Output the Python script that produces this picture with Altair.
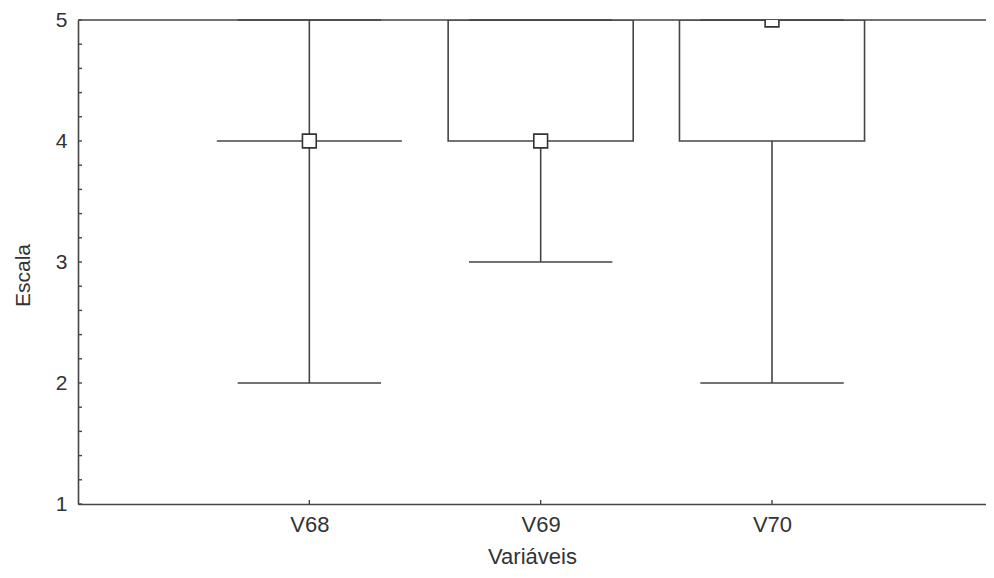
import altair as alt
import pandas as pd

categories = ["V68", "V69", "V70"]
positions = [1, 2, 3]
q1 = [4, 4, 4]
q3 = [4, 5, 5]
median = [4, 4, 5]
low = [2, 3, 2]
high = [5, 5, 5]
y_tick_values = [1.0, 1.2, 1.4, 1.6, 1.8, 2.0, 2.2, 2.4, 2.6, 2.8, 3.0, 3.2, 3.4,
                 3.6, 3.8, 4.0, 4.2, 4.4, 4.6, 4.8, 5.0]

W, H = 908, 484
LINE = "#454545"
TEXT = "#333333"
FONT = "Liberation Sans"

df = pd.DataFrame({"cat": categories, "pos": positions, "q1": q1, "q3": q3,
                   "median": median, "low": low, "high": high})
ticks_df = pd.DataFrame({"v": y_tick_values})

label_expr = "[" + ",".join("'%s'" % c for c in categories) + "][datum.value - 1]"

xscale = alt.Scale(domain=[0, 3.925], nice=False, zero=False)
yscale = alt.Scale(domain=[1, 5], nice=False, zero=False)

base = alt.Chart(df)

box = base.transform_calculate(
    xl="datum.pos - 0.4", xr="datum.pos + 0.4"
).mark_rect(fill="white", stroke=LINE, strokeWidth=1.6, clip=True).encode(
    x=alt.X("xl:Q", scale=xscale,
            axis=alt.Axis(values=positions, labelExpr=label_expr, title="Variáveis",
                          grid=False, ticks=False, labelPadding=10, titlePadding=11,
                          labelFontSize=22, titleFontSize=22,
                          domainColor=LINE, domainWidth=1.6)),
    x2="xr:Q",
    y=alt.Y("q1:Q", scale=yscale,
            axis=alt.Axis(values=[1, 2, 3, 4, 5], format="d", title="Escala", grid=False,
                          ticks=False, labelPadding=11, titlePadding=22, titleY=255,
                          labelFontSize=21, titleFontSize=21,
                          domainColor=LINE, domainWidth=1.6)),
    y2="q3:Q",
)

whisk_lo = base.mark_rule(color=LINE, strokeWidth=1.6).encode(
    x=alt.X("pos:Q", scale=xscale), y="low:Q", y2="q1:Q")
whisk_hi = base.mark_rule(color=LINE, strokeWidth=1.6).encode(
    x=alt.X("pos:Q", scale=xscale), y="q3:Q", y2="high:Q")

cap_lo = base.transform_calculate(
    xl="datum.pos - 0.31", xr="datum.pos + 0.31"
).mark_rule(color=LINE, strokeWidth=1.6).encode(
    x=alt.X("xl:Q", scale=xscale), x2="xr:Q", y="low:Q")
cap_hi = base.transform_calculate(
    xl="datum.pos - 0.31", xr="datum.pos + 0.31"
).mark_rule(color=LINE, strokeWidth=1.6).encode(
    x=alt.X("xl:Q", scale=xscale), x2="xr:Q", y="high:Q")

marker = base.mark_point(shape="square", size=190, filled=False, fill="white",
                         fillOpacity=1, stroke="#333333", strokeWidth=1.6, opacity=1,
                         clip=True).encode(
    x=alt.X("pos:Q", scale=xscale), y="median:Q")

top_line = alt.Chart(pd.DataFrame({"v": [5]})).mark_rule(color=LINE, strokeWidth=1.6).encode(
    y=alt.Y("v:Q", scale=yscale), x=alt.value(0), x2=alt.value(W))

yticks = alt.Chart(ticks_df).mark_rule(color=LINE, strokeWidth=1.4).encode(
    y=alt.Y("v:Q", scale=yscale), x=alt.value(0), x2=alt.value(4))

xticks = base.mark_rule(color=LINE, strokeWidth=1.4).encode(
    x=alt.X("pos:Q", scale=xscale), y=alt.value(H), y2=alt.value(H - 4))

chart = alt.layer(box, whisk_lo, whisk_hi, cap_lo, cap_hi, top_line, yticks, xticks, marker).properties(
    width=W, height=H,
    autosize=alt.AutoSizeParams(type="none"),
    padding={"left": 70, "top": 12, "right": 0, "bottom": 66},
).configure_view(stroke=None).configure_axis(
    labelFont=FONT, titleFont=FONT,
    labelColor=TEXT, titleColor=TEXT, titleFontWeight="normal",
)

chart.save("out.html", embed_options={"renderer": "svg", "actions": False})
